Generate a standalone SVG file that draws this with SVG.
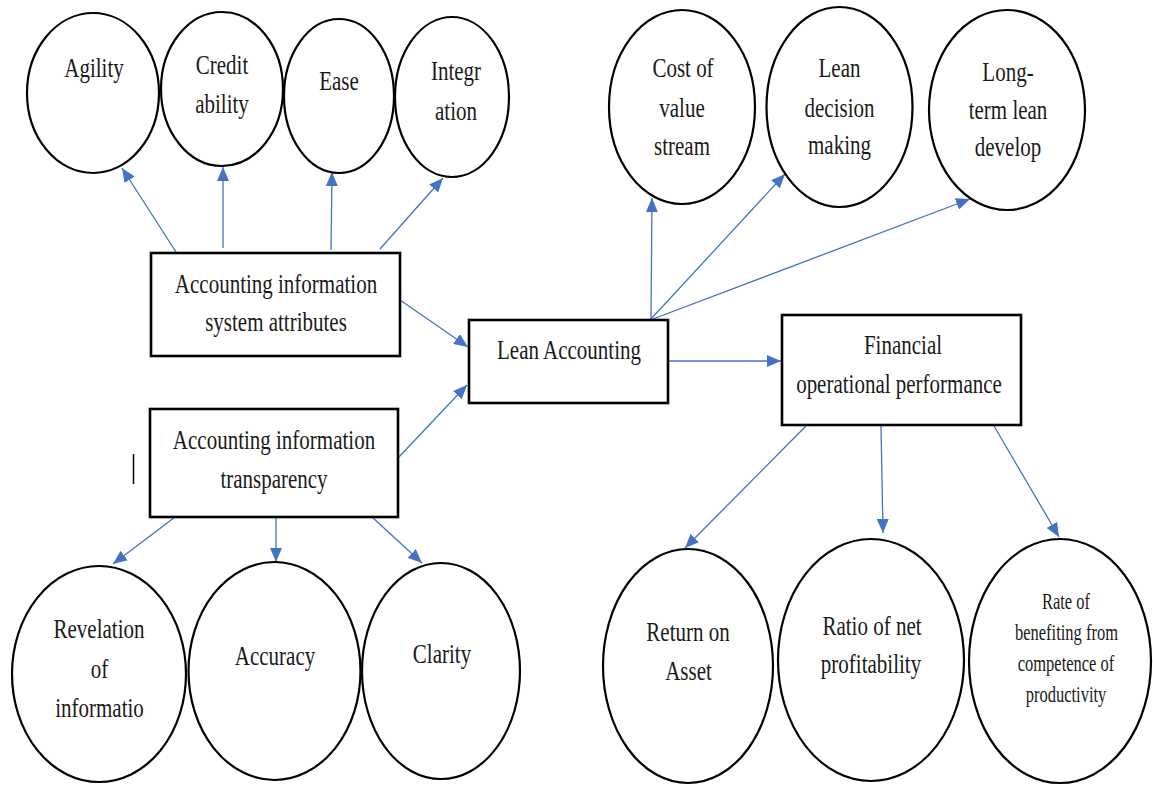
<svg xmlns="http://www.w3.org/2000/svg" width="1153" height="785" viewBox="0 0 1153 785">
<style>
.bg{fill:#ffffff}
.el{fill:#ffffff;stroke:#000000;stroke-width:2.2}
.bx{fill:#ffffff;stroke:#000000;stroke-width:2.6}
.t{font-family:"Liberation Serif","Times New Roman",serif;font-size:21px;fill:#1a1a1a;text-anchor:middle}
.s{font-family:"Liberation Serif","Times New Roman",serif;font-size:16.5px;fill:#1a1a1a;text-anchor:middle}
.c{stroke:#4472C4;stroke-width:1.3;fill:none;marker-end:url(#ah)}
</style>
<defs>
<marker id="ah" viewBox="0 0 14 12" refX="14" refY="6" markerWidth="14" markerHeight="12" markerUnits="userSpaceOnUse" orient="auto">
<path d="M0,0 L14,6 L0,12 z" fill="#4472C4"/>
</marker>
</defs>
<rect class="bg" x="0" y="0" width="1153" height="785"/>

<g id="connectors">
<line class="c" x1="176" y1="252" x2="122" y2="168"/>
<line class="c" x1="223" y1="248" x2="223" y2="167"/>
<line class="c" x1="331" y1="250" x2="332" y2="172"/>
<line class="c" x1="380" y1="249" x2="443" y2="178"/>
<line class="c" x1="400" y1="300" x2="468" y2="347"/>
<line class="c" x1="398" y1="458" x2="467" y2="385"/>
<line class="c" x1="175" y1="517" x2="113" y2="564"/>
<line class="c" x1="276" y1="517" x2="276" y2="562"/>
<line class="c" x1="372" y1="517" x2="422" y2="563"/>
<line class="c" x1="651" y1="319" x2="652" y2="198"/>
<line class="c" x1="651" y1="319" x2="785" y2="174"/>
<line class="c" x1="653" y1="319" x2="970" y2="199"/>
<line class="c" x1="669" y1="361" x2="781" y2="361"/>
<line class="c" x1="806" y1="426" x2="685" y2="548"/>
<line class="c" x1="881" y1="426" x2="883" y2="533"/>
<line class="c" x1="994" y1="426" x2="1059" y2="537"/>
</g>

<g id="agility">
<ellipse class="el" cx="93" cy="93" rx="66" ry="80"/>
<text class="t" transform="translate(94,77) scale(1,1.35)">Agility</text>
</g>
<g id="credit-ability">
<ellipse class="el" cx="222" cy="89" rx="61" ry="77"/>
<text class="t" transform="translate(222,74) scale(1,1.35)">Credit</text>
<text class="t" transform="translate(222,113) scale(1,1.35)">ability</text>
</g>
<g id="ease">
<ellipse class="el" cx="339" cy="96" rx="55" ry="77"/>
<text class="t" transform="translate(339,90) scale(1,1.35)">Ease</text>
</g>
<g id="integration">
<ellipse class="el" cx="452" cy="97" rx="57" ry="80"/>
<text class="t" transform="translate(456,80) scale(1,1.35)">Integr</text>
<text class="t" transform="translate(456,120) scale(1,1.35)">ation</text>
</g>

<g id="ais-attributes">
<rect class="bx" x="151" y="253" width="249" height="103"/>
<text class="t" transform="translate(276,293) scale(1,1.35)">Accounting information</text>
<text class="t" transform="translate(276,331) scale(1,1.35)">system attributes</text>
</g>
<g id="ais-transparency">
<rect class="bx" x="150" y="409" width="248" height="108"/>
<text class="t" transform="translate(274,449) scale(1,1.35)">Accounting information</text>
<text class="t" transform="translate(274,488) scale(1,1.35)">transparency</text>
</g>
<g id="mark">
<line x1="133.5" y1="454" x2="133.5" y2="484" stroke="#000000" stroke-width="1.5"/>
</g>

<g id="lean-accounting">
<rect class="bx" x="469" y="320" width="199" height="83"/>
<text class="t" transform="translate(569,359) scale(1,1.35)">Lean Accounting</text>
</g>
<g id="financial">
<rect class="bx" x="782" y="315" width="239" height="110"/>
<text class="t" transform="translate(903,354) scale(1,1.35)">Financial</text>
<text class="t" transform="translate(899,393) scale(1,1.35)">operational performance</text>
</g>

<g id="cost-of-value-stream">
<ellipse class="el" cx="682" cy="107" rx="73" ry="97"/>
<text class="t" transform="translate(683,77) scale(1,1.35)">Cost of</text>
<text class="t" transform="translate(682,117) scale(1,1.35)">value</text>
<text class="t" transform="translate(682,155) scale(1,1.35)">stream</text>
</g>
<g id="lean-decision-making">
<ellipse class="el" cx="839.5" cy="107" rx="73" ry="100"/>
<text class="t" transform="translate(839.5,77) scale(1,1.35)">Lean</text>
<text class="t" transform="translate(839.5,117) scale(1,1.35)">decision</text>
<text class="t" transform="translate(839.5,154) scale(1,1.35)">making</text>
</g>
<g id="long-term-lean-develop">
<ellipse class="el" cx="1007" cy="110" rx="78" ry="100"/>
<text class="t" transform="translate(1008,81) scale(1,1.35)">Long-</text>
<text class="t" transform="translate(1008,119) scale(1,1.35)">term lean</text>
<text class="t" transform="translate(1008,156) scale(1,1.35)">develop</text>
</g>

<g id="revelation">
<ellipse class="el" cx="99" cy="674" rx="87" ry="108"/>
<text class="t" transform="translate(99,638) scale(1,1.35)">Revelation</text>
<text class="t" transform="translate(99.5,678) scale(1,1.35)">of</text>
<text class="t" transform="translate(99.5,717) scale(1,1.35)">informatio</text>
</g>
<g id="accuracy">
<ellipse class="el" cx="274.5" cy="671" rx="86" ry="109"/>
<text class="t" transform="translate(275,665) scale(1,1.35)">Accuracy</text>
</g>
<g id="clarity">
<ellipse class="el" cx="441" cy="671" rx="79" ry="108"/>
<text class="t" transform="translate(442,663) scale(1,1.35)">Clarity</text>
</g>

<g id="return-on-asset">
<ellipse class="el" cx="688" cy="666" rx="85" ry="117"/>
<text class="t" transform="translate(688,641) scale(1,1.35)">Return on</text>
<text class="t" transform="translate(688.5,680) scale(1,1.35)">Asset</text>
</g>
<g id="ratio-net-profitability">
<ellipse class="el" cx="871" cy="660" rx="93" ry="121"/>
<text class="t" transform="translate(872,635) scale(1,1.35)">Ratio of net</text>
<text class="t" transform="translate(871,673) scale(1,1.35)">profitability</text>
</g>
<g id="rate-of-benefiting">
<ellipse class="el" cx="1060" cy="661" rx="91" ry="122"/>
<text class="s" transform="translate(1066,609) scale(1,1.4)">Rate of</text>
<text class="s" transform="translate(1066.5,640) scale(1,1.4)">benefiting from</text>
<text class="s" transform="translate(1066,671) scale(1,1.4)">competence of</text>
<text class="s" transform="translate(1066,702) scale(1,1.4)">productivity</text>
</g>
</svg>
